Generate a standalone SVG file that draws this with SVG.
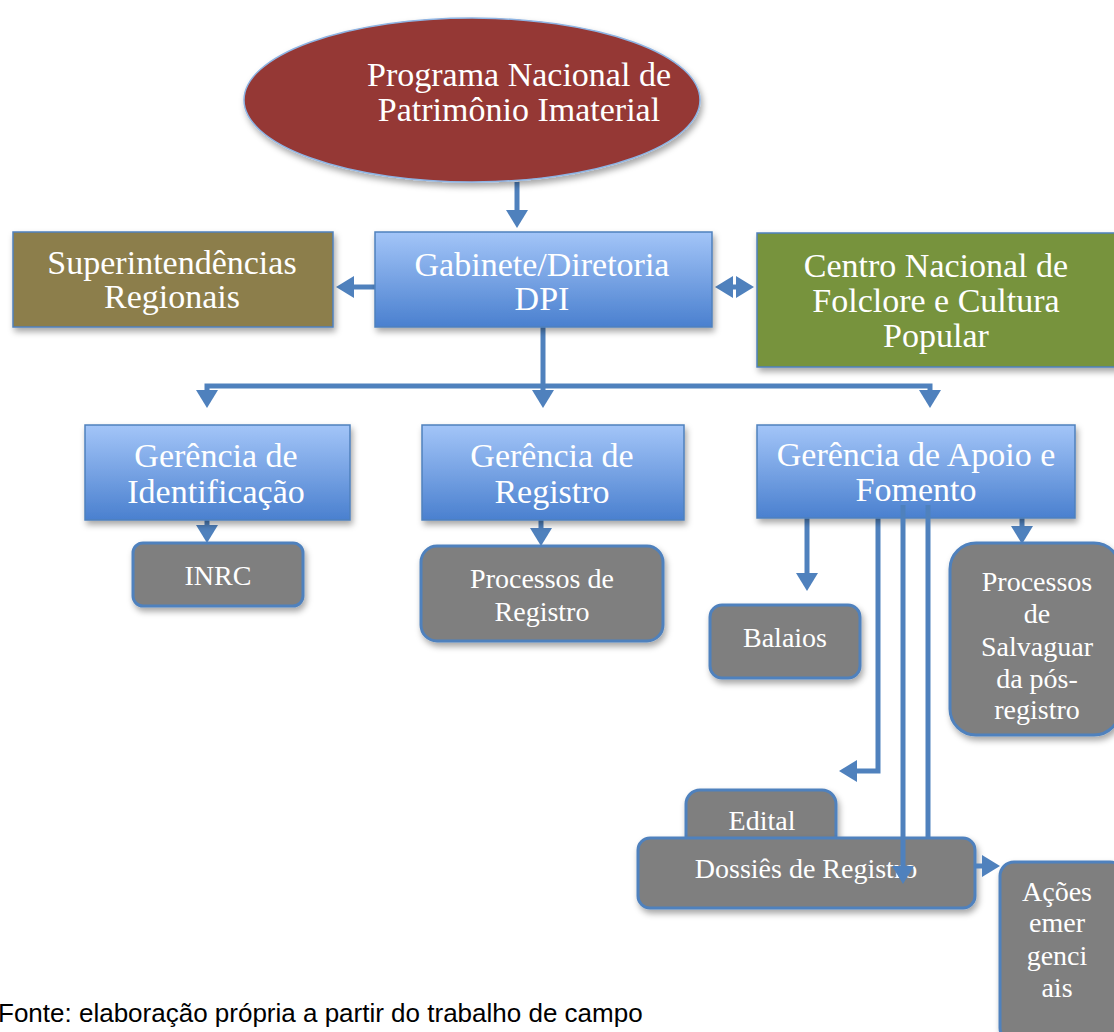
<svg xmlns="http://www.w3.org/2000/svg" width="1114" height="1032" viewBox="0 0 1114 1032">
<defs>
<linearGradient id="blue" x1="0" y1="0" x2="0" y2="1">
<stop offset="0" stop-color="#a3c5f8"/>
<stop offset="1" stop-color="#4a80cf"/>
</linearGradient>
<filter id="sh" x="-10%" y="-10%" width="130%" height="140%">
<feDropShadow dx="2" dy="4" stdDeviation="3" flood-color="#000" flood-opacity="0.35"/>
</filter>
<marker id="ah" markerUnits="userSpaceOnUse" markerWidth="26" markerHeight="26" viewBox="0 0 26 26" refX="6" refY="13" orient="auto-start-reverse">
<path d="M0,2 L18,13 L0,24 z" fill="#4f81bd"/>
</marker>
<style>
.t{font-family:"Liberation Serif","Times New Roman",serif;fill:#fff;text-anchor:middle}
.big{font-size:34px}
.mid{font-size:28px}
.bl{fill:url(#blue);stroke:#4f81bd;stroke-width:1.5;filter:url(#sh)}
.gr{fill:#7f7f7f;stroke:#4f81bd;stroke-width:3;filter:url(#sh)}
.c{fill:none;stroke:#4f81bd;stroke-width:5}
</style>
</defs>
<rect width="1114" height="1032" fill="#fff"/>

<g id="connectors">
<line class="c" x1="517" y1="182" x2="517" y2="216" marker-end="url(#ah)"/>
<line class="c" x1="375" y1="287" x2="348" y2="287" marker-end="url(#ah)"/>
<line class="c" x1="727" y1="287" x2="742" y2="287" marker-start="url(#ah)" marker-end="url(#ah)"/>
<polyline class="c" points="543,327 543,386"/>
<polyline class="c" points="207,396 207,386 930,386 930,396" marker-start="url(#ah)" marker-end="url(#ah)"/>
<line class="c" x1="543" y1="386" x2="543" y2="396" marker-end="url(#ah)"/>
<line class="c" x1="207" y1="512" x2="207" y2="531" marker-end="url(#ah)"/>
<line class="c" x1="541" y1="506" x2="541" y2="534" marker-end="url(#ah)"/>
<line class="c" x1="807" y1="516" x2="807" y2="579" marker-end="url(#ah)"/>
<line class="c" x1="1022" y1="503" x2="1022" y2="532" marker-end="url(#ah)"/>
<polyline class="c" points="878,505 878,771 851,771" marker-end="url(#ah)"/>
</g>

<g id="n-programa">
<ellipse cx="472" cy="100" rx="228" ry="82" fill="#953735" stroke="#8eb4e3" stroke-width="1.5" filter="url(#sh)"/>
<text class="t big" x="519" y="86">Programa Nacional de</text>
<text class="t big" x="519" y="121">Patrimônio Imaterial</text>
</g>

<g id="n-super">
<rect x="13" y="232" width="320" height="95" fill="#8c7e4b" stroke="#4f81bd" stroke-width="1.5" filter="url(#sh)"/>
<text class="t big" x="172" y="274">Superintendências</text>
<text class="t big" x="172" y="308">Regionais</text>
</g>

<g id="n-gabinete">
<rect class="bl" x="375" y="232" width="337" height="95"/>
<text class="t big" x="542" y="276">Gabinete/Diretoria</text>
<text class="t big" x="542" y="310">DPI</text>
</g>

<g id="n-centro">
<rect x="757" y="233" width="362" height="134" fill="#77933c" stroke="#4f81bd" stroke-width="1.5" filter="url(#sh)"/>
<text class="t big" x="936" y="277">Centro Nacional de</text>
<text class="t big" x="936" y="312">Folclore e Cultura</text>
<text class="t big" x="936" y="347">Popular</text>
</g>

<g id="n-identificacao">
<rect class="bl" x="85" y="425" width="265" height="95"/>
<text class="t big" x="216" y="467">Gerência de</text>
<text class="t big" x="216" y="503">Identificação</text>
</g>

<g id="n-registro">
<rect class="bl" x="422" y="425" width="262" height="95"/>
<text class="t big" x="552" y="467">Gerência de</text>
<text class="t big" x="552" y="503">Registro</text>
</g>

<g id="n-apoio">
<rect class="bl" x="757" y="425" width="318" height="93"/>
<text class="t big" x="916" y="466">Gerência de Apoio e</text>
<text class="t big" x="916" y="501">Fomento</text>
</g>

<g id="n-inrc">
<rect class="gr" x="133" y="543" width="170" height="63" rx="10"/>
<text class="t mid" x="218" y="585">INRC</text>
</g>

<g id="n-processos-registro">
<rect class="gr" x="421" y="546" width="242" height="95" rx="16"/>
<text class="t mid" x="542" y="588">Processos de</text>
<text class="t mid" x="542" y="621">Registro</text>
</g>

<g id="n-balaios">
<rect class="gr" x="710" y="605" width="150" height="73" rx="12"/>
<text class="t mid" x="785" y="647">Balaios</text>
</g>

<g id="n-salvaguarda">
<rect class="gr" x="950" y="543" width="170" height="192" rx="26"/>
<text class="t mid" x="1037" y="591">Processos</text>
<text class="t mid" x="1037" y="623">de</text>
<text class="t mid" x="1037" y="656">Salvaguar</text>
<text class="t mid" x="1037" y="688">da pós-</text>
<text class="t mid" x="1037" y="719">registro</text>
</g>

<g id="n-edital">
<rect class="gr" x="686" y="790" width="150" height="70" rx="14"/>
<text class="t mid" x="762" y="830">Edital</text>
</g>

<g id="n-dossies">
<rect class="gr" x="638" y="838" width="337" height="70" rx="12"/>
<text class="t mid" x="806" y="878">Dossiês de Registro</text>
</g>

<g id="n-acoes">
<rect class="gr" x="1000" y="862" width="124" height="180" rx="14"/>
<text class="t mid" x="1057" y="901">Ações</text>
<text class="t mid" x="1057" y="932">emer</text>
<text class="t mid" x="1057" y="965">genci</text>
<text class="t mid" x="1057" y="997">ais</text>
</g>

<g id="connectors-over">
<line class="c" x1="903" y1="505" x2="903" y2="872" marker-end="url(#ah)"/>
<line class="c" x1="928" y1="505" x2="928" y2="838"/>
<line class="c" x1="975" y1="866" x2="988" y2="866" marker-end="url(#ah)"/>
</g>

<text x="-2" y="1022" font-family="Liberation Sans, Arial, sans-serif" font-size="26" fill="#000">Fonte: elaboração própria a partir do trabalho de campo</text>
</svg>
